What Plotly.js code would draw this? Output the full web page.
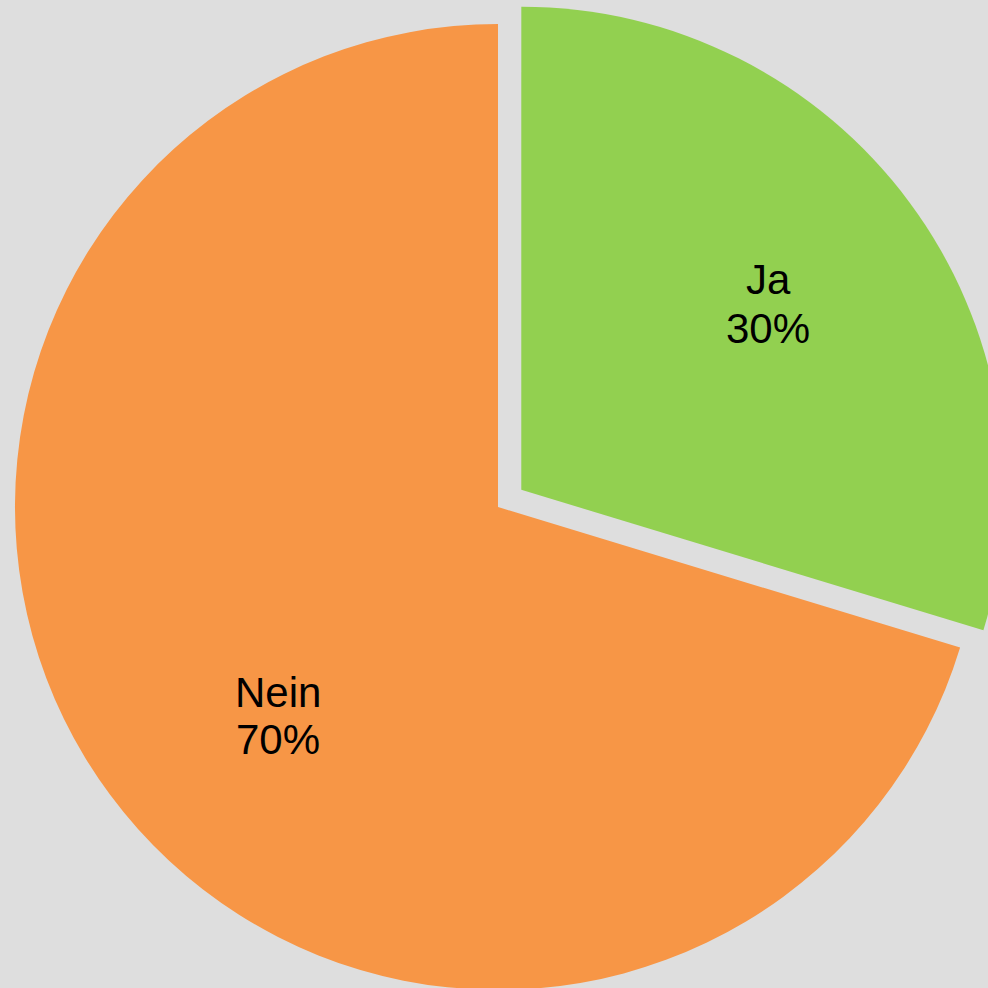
<!DOCTYPE html>
<html>
<head>
<meta charset="utf-8">
<script src="https://cdn.plot.ly/plotly-3.0.1.min.js"></script>
<style>
  html, body { margin: 0; padding: 0; width: 988px; height: 988px; overflow: hidden; background: #DEDEDE; }
  #chart { position: absolute; left: -14px; top: -5px; width: 1024px; height: 1024px; }
</style>
</head>
<body>
<div id="chart"></div>
<script>
const labels = ["Ja", "Nein"];
const values = [29.7, 70.3];
const colors = ["#92D050", "#F79646"];
const pulls = [0.06, 0];

const total = values.reduce((a, b) => a + b, 0);
const percentText = values.map(v => Math.round(v / total * 100) + "%");

const trace = {
  type: "pie",
  labels: labels,
  values: values,
  sort: false,
  direction: "clockwise",
  rotation: 0,
  pull: pulls,
  marker: { colors: colors, line: { width: 0 } },
  textinfo: "none",
  hoverinfo: "none",
  showlegend: false
};

// label placement (paper coords of the plot box): [labelLine, percentLine] per slice
const labelPos = [
  { x: 0.7637, y1: 0.7217, y2: 0.6748 },
  { x: 0.2850, y1: 0.3193, y2: 0.2734 }
];
const font = { family: "Liberation Sans, Arial, sans-serif", size: 42, color: "#000000" };
const annotations = [];
labels.forEach((lab, i) => {
  annotations.push({ xref: "paper", yref: "paper", x: labelPos[i].x, y: labelPos[i].y1,
    text: lab, showarrow: false, xanchor: "center", yanchor: "middle", font: font });
  annotations.push({ xref: "paper", yref: "paper", x: labelPos[i].x, y: labelPos[i].y2,
    text: percentText[i], showarrow: false, xanchor: "center", yanchor: "middle", font: font });
});

const layout = {
  width: 1024,
  height: 1024,
  margin: { l: 0, r: 0, t: 0, b: 0, pad: 0 },
  paper_bgcolor: "#DEDEDE",
  plot_bgcolor: "#DEDEDE",
  showlegend: false,
  annotations: annotations
};

Plotly.newPlot("chart", [trace], layout, { displayModeBar: false, staticPlot: true });
</script>
</body>
</html>
